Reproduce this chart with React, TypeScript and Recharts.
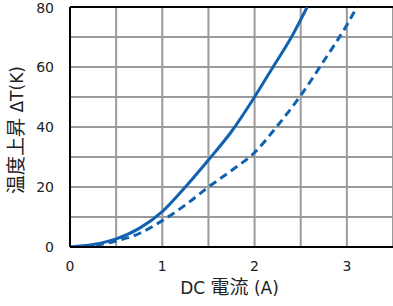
import React from 'react';
import { LineChart, Line, XAxis, YAxis, CartesianGrid, ReferenceLine, Label } from 'recharts';

const solidX = [0, 0.25, 0.5, 0.75, 1.0, 1.25, 1.5, 1.75, 2.0, 2.2, 2.4, 2.57];
const solidY = [0, 0.8, 2.7, 6.2, 11.8, 20, 29, 38.5, 50, 60, 70, 80];
const dashX = [0, 0.25, 0.5, 0.75, 1.0, 1.25, 1.5, 1.75, 2.0, 2.25, 2.5, 2.75, 3.0, 3.11];
const dashY = [0, 0.5, 2, 4.5, 8.8, 14, 20, 25.5, 31.5, 40.5, 50.5, 62, 74, 80];
const xTicks = [0, 0.5, 1, 1.5, 2, 2.5, 3, 3.5];
const yTicks = [0, 10, 20, 30, 40, 50, 60, 70, 80];
const xTitle = ['DC ', '電流', ' (A)'];
const yTitle = ['温度上昇', ' ΔT(K)'];

const solidData = solidX.map((x, i) => ({ x, y: solidY[i] }));
const dashData = dashX.map((x, i) => ({ x, y: dashY[i] }));

const FONT = '"DejaVu Sans", "Noto Sans CJK JP", sans-serif';
const BLUE = '#1062b0';
const TXT = '#222';

const isCJK = (s: string) => /[\u3000-\u9fff]/.test(s);

const XTitle = (props: any) => {
  const vb = props.viewBox || {};
  const cx = (vb.x ?? 70) + (vb.width ?? 323) / 2 - 2;
  return (
    <text x={cx} y={294} textAnchor="middle" fill={TXT} fontFamily={FONT}>
      {xTitle.map((s, i) => (
        <tspan key={i} fontSize={isCJK(s) ? 19 : 17}>{s}</tspan>
      ))}
    </text>
  );
};

const YTitle = () => {
  const cy = 130;
  const cx = 23;
  return (
    <text x={cx} y={cy} transform={`rotate(-90 ${cx} ${cy})`} textAnchor="middle" fill={TXT} fontFamily={FONT}>
      {yTitle.map((s, i) => (
        <tspan key={i} fontSize={isCJK(s) ? 19 : 17}>{s}</tspan>
      ))}
    </text>
  );
};

export default function App() {
  return (
    <div style={{ position: 'absolute', left: 0, top: 0 }}>
      <LineChart width={393} height={306} margin={{ top: 7, right: 0, left: 0, bottom: 0 }}>
        <CartesianGrid stroke="#9a9a9a" strokeWidth={2} horizontalValues={yTicks} verticalValues={xTicks} />
        <XAxis
          type="number"
          dataKey="x"
          domain={[0, 3.5]}
          ticks={xTicks}
          allowDataOverflow
          tickFormatter={(v: number) => (Number.isInteger(v) ? String(v) : '')}
          tickLine={false}
          axisLine={{ stroke: '#000', strokeWidth: 2 }}
          tick={{ fill: TXT, fontSize: 14, fontFamily: FONT }}
          tickMargin={8}
          height={59}
        >
          <Label content={<XTitle />} />
        </XAxis>
        <YAxis
          type="number"
          domain={[0, 80]}
          ticks={[0, 20, 40, 60, 80]}
          allowDataOverflow
          tickLine={false}
          axisLine={{ stroke: '#000', strokeWidth: 2 }}
          tick={{ fill: TXT, fontSize: 14, fontFamily: FONT }}
          tickMargin={10}
          width={70}
        >
          <Label content={<YTitle />} />
        </YAxis>
        <ReferenceLine y={80} stroke="#000" strokeWidth={2} ifOverflow="extendDomain" />
        <Line data={solidData} dataKey="y" type="monotone" stroke={BLUE} strokeWidth={3} dot={false} isAnimationActive={false} />
        <Line data={dashData} dataKey="y" type="monotone" stroke={BLUE} strokeWidth={3} strokeDasharray="8 5" dot={false} isAnimationActive={false} />
      </LineChart>
    </div>
  );
}
